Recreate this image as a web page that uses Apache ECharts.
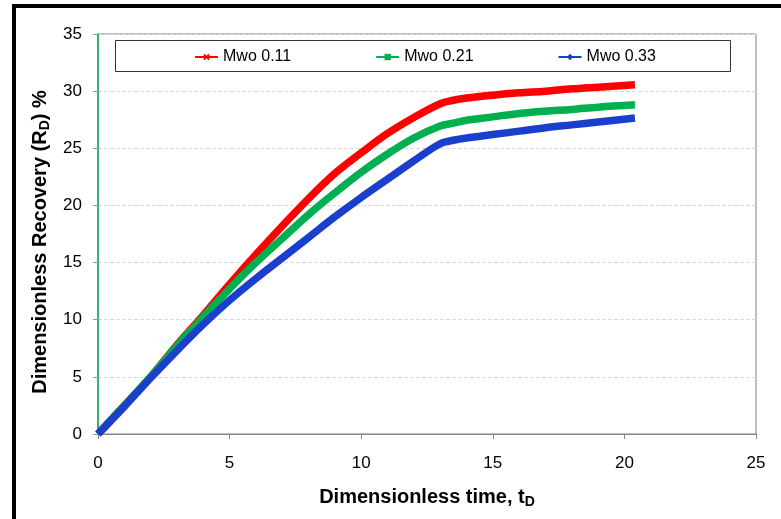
<!DOCTYPE html>
<html>
<head>
<meta charset="utf-8">
<script src="https://cdn.jsdelivr.net/npm/echarts@6/dist/echarts.min.js"></script>
<style>
  html, body { margin: 0; padding: 0; background: #fff; }
  #chart { width: 781px; height: 519px; }
</style>
</head>
<body>
<div id="chart"></div>
<script>
// dimensionless time (shared by all three curves)
const timeD = [0, 1, 2, 3, 4, 5, 6, 7, 8, 9, 10, 11, 12, 13, 13.5, 14, 15, 16, 17, 18, 19, 20.4];
// dimensionless recovery, %
const mwo011 = [0, 2.5, 5.0, 7.8, 10.4, 13.1, 15.7, 18.2, 20.6, 22.8, 24.6, 26.3, 27.7, 28.9, 29.2, 29.4, 29.65, 29.85, 30.0, 30.2, 30.35, 30.56];
const mwo021 = [0, 2.5, 5.0, 7.7, 10.25, 12.7, 15.0, 17.1, 19.2, 21.1, 22.9, 24.5, 25.9, 26.95, 27.2, 27.45, 27.75, 28.05, 28.25, 28.4, 28.6, 28.8];
const mwo033 = [0, 2.4, 4.9, 7.3, 9.6, 11.7, 13.6, 15.4, 17.2, 19.0, 20.7, 22.3, 23.9, 25.4, 25.7, 25.9, 26.2, 26.5, 26.8, 27.05, 27.3, 27.65];
const seriesNames = ['Mwo 0.11', 'Mwo 0.21', 'Mwo 0.33'];

const pairs = (ys) => timeD.map((t, i) => [t, ys[i]]);

const crossPath = 'path://M0,2L2,0L5,3L8,0L10,2L7,5L10,8L8,10L5,7L2,10L0,8L3,5Z';

const myChart = echarts.init(document.getElementById('chart'), null, { renderer: 'canvas' });

const mkSeries = (name, ys, color, symbol, size) => ({
    name: name,
    type: 'line',
    data: pairs(ys),
    smooth: 0.35,
    showSymbol: false,
    symbol: symbol,
    symbolSize: size,
    itemStyle: { color: color },
    lineStyle: { color: color, width: 7.5 },
    z: 3
});

const option = {
    animation: false,
    backgroundColor: '#fff',
    textStyle: { fontFamily: 'Arial, "Liberation Sans", sans-serif' },
    grid: {
        left: 98, top: 34, right: 25, bottom: 85,
        show: true,
        borderColor: '#808080',
        borderWidth: 1
    },
    legend: {
        left: 194,
        top: 49,
        padding: 0,
        itemWidth: 23,
        itemHeight: 8,
        itemGap: 84,
        textStyle: { color: '#000', fontSize: 16, fontFamily: 'Arial, "Liberation Sans", sans-serif' },
        data: seriesNames
    },
    xAxis: {
        type: 'value',
        min: 0, max: 25, interval: 5,
        axisLine: { show: true, lineStyle: { color: '#868686', width: 1 } },
        axisTick: { show: true, length: 5, lineStyle: { color: '#868686' } },
        axisLabel: { color: '#000', fontSize: 17, margin: 21 },
        splitLine: { show: false },
        name: 'Dimensionless time, t{sub|D}',
        nameLocation: 'middle',
        nameGap: 52,
        nameTextStyle: {
            color: '#000', fontSize: 20, fontWeight: 'bold',
            rich: { sub: { fontSize: 14, fontWeight: 'bold', verticalAlign: 'bottom', padding: [9, 0, 0, 0] } }
        }
    },
    yAxis: {
        type: 'value',
        min: 0, max: 35, interval: 5,
        axisLine: { show: true, lineStyle: { color: '#00b050', width: 1.5 } },
        axisTick: { show: true, length: 5, lineStyle: { color: '#4cc47f' } },
        axisLabel: { color: '#000', fontSize: 17, margin: 16 },
        splitLine: { show: true, lineStyle: { color: '#d9d9d9', type: 'dashed', width: 1 } },
        name: 'Dimensionless Recovery (R{sub|D}) %',
        nameLocation: 'middle',
        nameGap: 46,
        nameTextStyle: {
            color: '#000', fontSize: 20, fontWeight: 'bold',
            padding: [0, 16, 0, 0],
            rich: { sub: { fontSize: 14, fontWeight: 'bold', verticalAlign: 'bottom', padding: [9, 0, 0, 0] } }
        }
    },
    graphic: [
        // outer frame (top and left edges)
        { type: 'rect', shape: { x: 12, y: 4, width: 769, height: 4 }, style: { fill: '#000' }, z: 10 },
        { type: 'rect', shape: { x: 12, y: 4, width: 4, height: 515 }, style: { fill: '#000' }, z: 10 },
        // legend box
        { type: 'rect', shape: { x: 115.5, y: 40.5, width: 615, height: 31 }, style: { fill: '#fff', stroke: '#333', lineWidth: 1 }, z: 1 }
    ],
    series: [
        mkSeries(seriesNames[0], mwo011, '#ff0000', crossPath, 7),
        mkSeries(seriesNames[1], mwo021, '#00b050', 'rect', 6),
        mkSeries(seriesNames[2], mwo033, '#1a3fcc', 'diamond', 7)
    ]
};

myChart.setOption(option);
window.addEventListener('resize', () => {
    myChart.resize();
});
</script>
</body>
</html>
